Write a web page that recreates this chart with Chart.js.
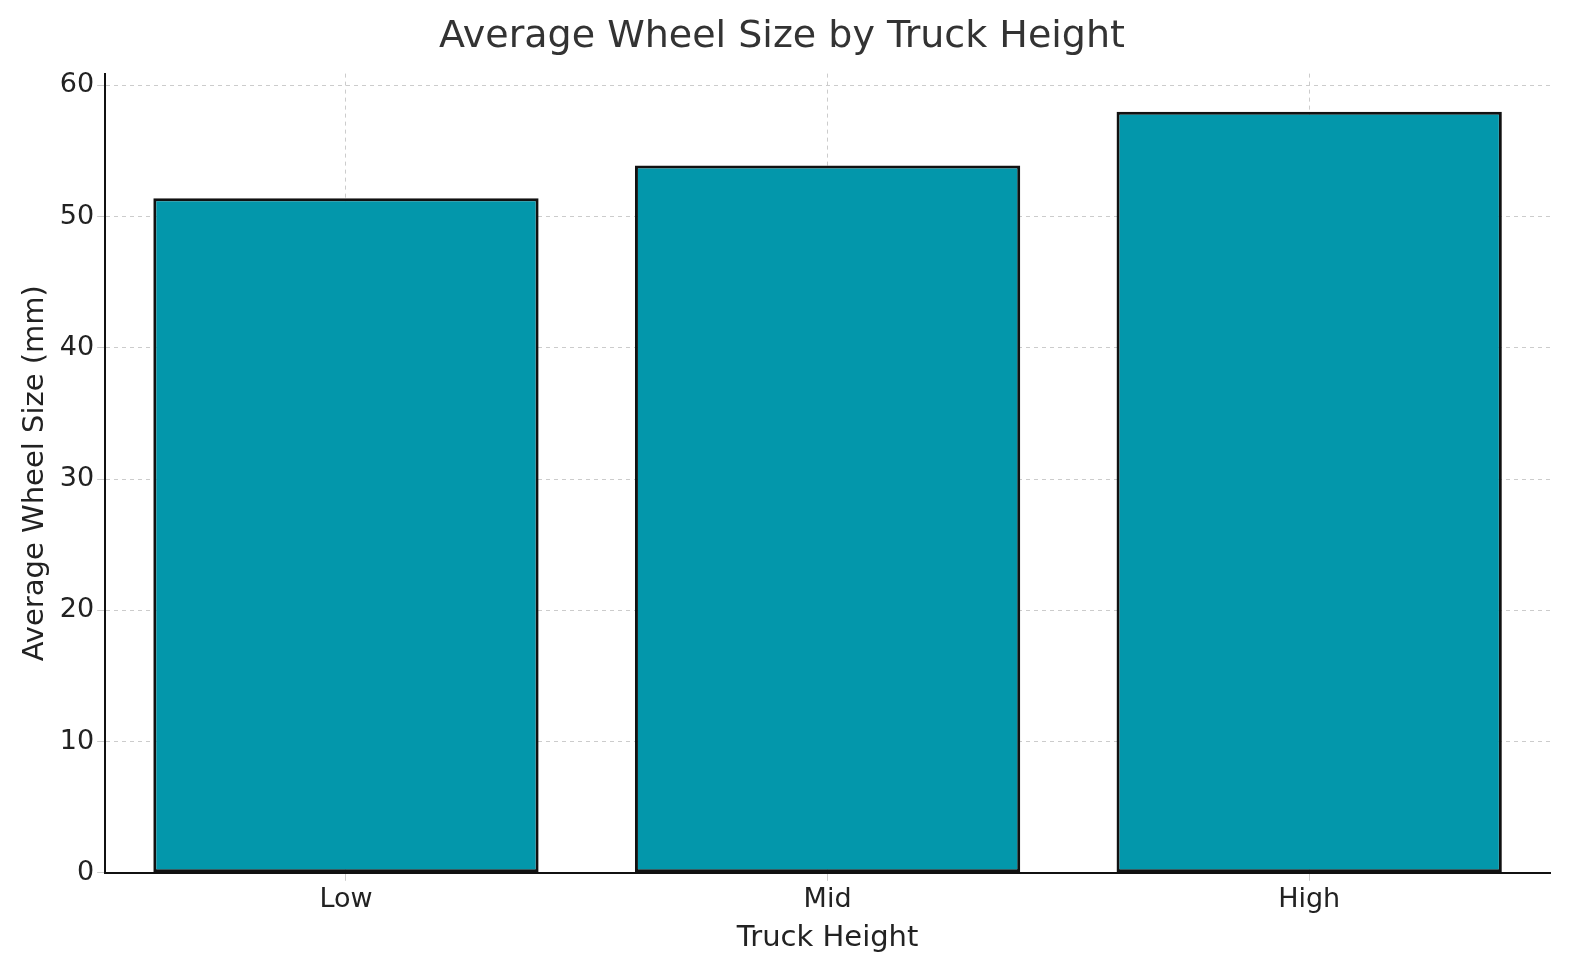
<!DOCTYPE html>
<html>
<head>
<meta charset="utf-8">
<script src="https://cdn.jsdelivr.net/npm/chart.js@4"></script>
<style>
  html, body { margin: 0; padding: 0; background: #fff; }
  #wrap { width: 1580px; height: 980px; }
</style>
</head>
<body>
<div id="wrap"><canvas id="chart"></canvas></div>
<script>
const categories = ["Low", "Mid", "High"];
const wheelSizes = [51.4, 53.9, 58.0];
const yTicks = [0, 10, 20, 30, 40, 50, 60];

Chart.defaults.font.family = "'DejaVu Sans', sans-serif";
Chart.defaults.color = "#222";

new Chart(document.getElementById("chart"), {
    type: "bar",
    data: {
        labels: categories,
        datasets: [{
            data: wheelSizes,
            backgroundColor: "#0397ab",
            borderColor: "#111",
            borderWidth: 3,
            borderSkipped: false,
            barPercentage: 0.8,
            categoryPercentage: 1.0
        }]
    },
    options: {
        responsive: true,
        maintainAspectRatio: false,
        animation: false,
        layout: { padding: { left: 14, right: 30, top: 8, bottom: 22 } },
        plugins: {
            legend: { display: false },
            tooltip: { enabled: false },
            title: {
                display: true,
                text: "Average Wheel Size by Truck Height",
                font: { size: 38, weight: "normal" },
                color: "#333",
                padding: { top: 6, bottom: 14 }
            }
        },
        scales: {
            x: {
                offset: true,
                grid: { color: "#cccccc", offset: false, tickLength: 8 },
                border: { color: "#111", width: 2, dash: [4, 4] },
                ticks: { font: { size: 27 }, color: "#222" },
                title: { display: true, text: "Truck Height", font: { size: 29 }, color: "#222", padding: 2 }
            },
            y: {
                min: 0,
                max: 60.9,
                afterBuildTicks: axis => { axis.ticks = yTicks.map(v => ({ value: v })); },
                grid: { color: "#cccccc", tickLength: 8 },
                border: { color: "#111", width: 2, dash: [4, 4] },
                ticks: { font: { size: 27 }, color: "#222" },
                title: { display: true, text: "Average Wheel Size (mm)", font: { size: 29 }, color: "#222" }
            }
        }
    }
});
</script>
</body>
</html>
